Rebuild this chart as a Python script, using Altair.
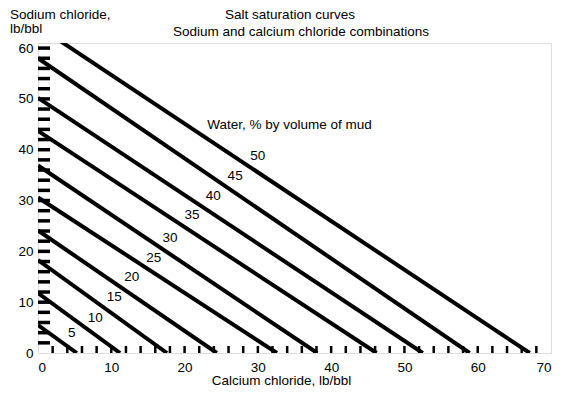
import altair as alt
import pandas as pd

# Water content (% by volume of mud) for each saturation line
water = [5, 10, 15, 20, 25, 30, 35, 40, 45, 50]
# Sodium chloride intercept (lb/bbl) at zero calcium chloride
nacl_at_zero = [5.5, 11.8, 18.3, 24.1, 30.6, 36.9, 43.7, 50.2, 58.0, 64.3]
# Calcium chloride intercept (lb/bbl) at zero sodium chloride
cacl2_at_zero = [5.3, 11.2, 17.6, 24.4, 32.6, 38.1, 46.2, 52.5, 58.9, 67.1]
# Line label anchor positions (data units)
label_x = [4.6, 7.8, 10.4, 12.8, 15.8, 18.0, 21.0, 23.9, 26.9, 30.0]
label_y = [3.9, 6.9, 11.0, 14.9, 18.7, 22.6, 27.2, 30.9, 34.8, 38.8]

x_ticks = list(range(2, 70, 2))
y_ticks = list(range(2, 62, 2))
x_labels = [0, 10, 20, 30, 40, 50, 60, 70]
y_labels = [0, 10, 20, 30, 40, 50, 60]

FONT = "Liberation Sans"
FS = 13.5
W, H = 513, 310

rows = []
for w, ny, cx in zip(water, nacl_at_zero, cacl2_at_zero):
    rows.append({"water": w, "x": 0.0, "y": ny, "o": 0})
    rows.append({"water": w, "x": cx, "y": 0.0, "o": 1})
lines_df = pd.DataFrame(rows)
labels_df = pd.DataFrame({"x": label_x, "y": label_y, "t": [str(w) for w in water]})

xs = alt.Scale(domain=[0, 70], nice=False, zero=False)
ys = alt.Scale(domain=[0, 61], nice=False, zero=False)

xaxis = alt.Axis(values=x_labels, ticks=False, domain=False, grid=False,
                 labelFont=FONT, labelFontSize=FS, labelColor="black",
                 labelPadding=7, title="Calcium chloride, lb/bbl",
                 titleFont=FONT, titleFontSize=FS, titleFontWeight="normal",
                 titleColor="black", titlePadding=0, titleX=243)
yaxis = alt.Axis(values=y_labels, ticks=False, domain=False, grid=False,
                 labelFont=FONT, labelFontSize=FS, labelColor="black",
                 labelPadding=5, title=None)

lines = alt.Chart(lines_df).mark_line(color="black", strokeWidth=4, clip=True).encode(
    x=alt.X("x:Q", scale=xs, axis=xaxis),
    y=alt.Y("y:Q", scale=ys, axis=yaxis),
    detail="water:N",
    order="o:Q",
)

line_labels = alt.Chart(labels_df).mark_text(
    font=FONT, fontSize=FS, color="black", align="center", baseline="middle"
).encode(x=alt.X("x:Q", scale=xs), y=alt.Y("y:Q", scale=ys), text="t:N")

xt = alt.Chart(pd.DataFrame({"v": x_ticks})).mark_rule(color="black", strokeWidth=2.5).encode(
    x=alt.X("v:Q", scale=xs), y=alt.value(H), y2=alt.value(H - 7)
)
yt = alt.Chart(pd.DataFrame({"v": y_ticks})).mark_rule(color="black", strokeWidth=3.5).encode(
    y=alt.Y("v:Q", scale=ys), x=alt.value(0), x2=alt.value(12)
)

water_lbl = alt.Chart(pd.DataFrame({"x": [23.1], "y": [44.9], "t": ["Water, % by volume of mud"]})).mark_text(
    font=FONT, fontSize=FS, color="black", align="left", baseline="middle"
).encode(x=alt.X("x:Q", scale=xs), y=alt.Y("y:Q", scale=ys), text="t:N")

def txt(s, x, y, align="left"):
    return alt.Chart(pd.DataFrame({"t": [s]})).mark_text(
        font=FONT, fontSize=FS, color="black", align=align, baseline="middle"
    ).encode(x=alt.value(x), y=alt.value(y), text="t:N")

titles = (
    txt("Salt saturation curves", 252, -28, "center")
    + txt("Sodium and calcium chloride combinations", 263, -11, "center")
    + txt("Sodium chloride,", -28, -28)
    + txt("lb/bbl", -28, -14)
)

chart = alt.layer(lines, xt, yt, line_labels, water_lbl, titles).properties(
    width=W, height=H,
    autosize=alt.AutoSizeParams(type="none"),
    padding={"left": 30, "top": 35, "right": 22, "bottom": 36},
).configure_view(stroke="black", strokeWidth=3.5).configure(background="white")

chart.save("out.html", embed_options={"renderer": "svg", "actions": False})
